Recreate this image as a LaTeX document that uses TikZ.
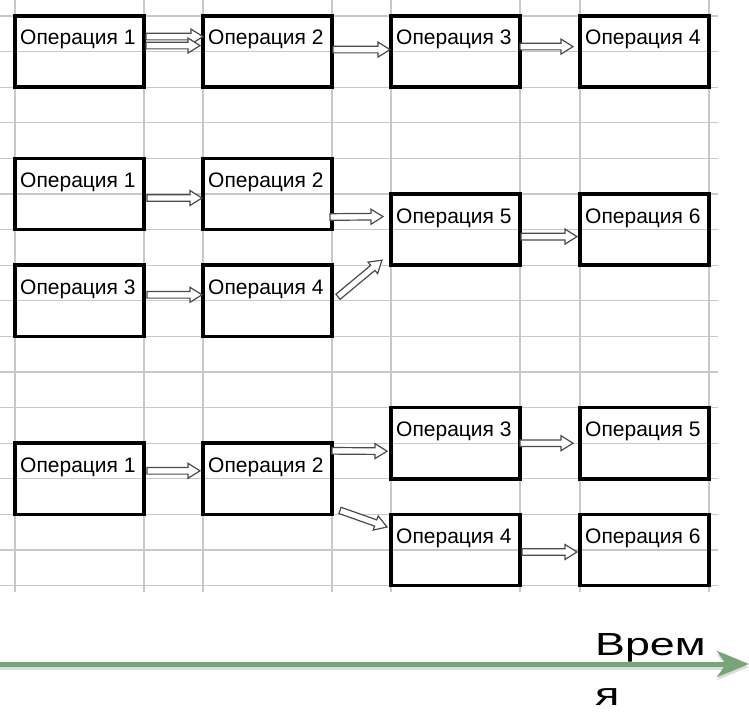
\documentclass[tikz,border=0pt]{standalone}
\usepackage{fontspec}
\setmainfont{Liberation Sans}
\newfontfamily\axisfont{Liberation Sans}[FakeStretch=1.4]
\usetikzlibrary{calc,arrows.meta}
\definecolor{gridgray}{RGB}{200,200,200}
\definecolor{arrowgray}{RGB}{75,75,75}
\definecolor{axisgreen}{RGB}{118,166,120}
\begin{document}
\begin{tikzpicture}[x=1pt,y=-1pt,
  opbox/.style={draw,line width=3.5pt,minimum width=129pt,minimum height=71.2pt,
    inner sep=0pt,outer sep=0pt,anchor=north west,
    label={[anchor=base west,inner sep=0pt,font=\fontsize{21}{25}\selectfont,
      xshift=5pt,yshift=-29pt]north west:#1}},
  blockarrow/.style={draw=arrowgray,line width=1.2pt,fill=white,line join=miter,
    to path={($(\tikztotarget)!12pt!(\tikztostart)$) coordinate (hb)
      ($(\tikztostart)!3.3pt!90:(\tikztotarget)$) -- ($(hb)!3.3pt!-90:(\tikztostart)$)
      -- ($(hb)!7.5pt!-90:(\tikztostart)$) -- (\tikztotarget)
      -- ($(hb)!7.5pt!90:(\tikztostart)$) -- ($(hb)!3.3pt!90:(\tikztostart)$)
      -- ($(\tikztostart)!3.3pt!-90:(\tikztotarget)$) -- cycle}},
  timeline/.style={line width=5pt,-{Stealth[length=32pt,width=26pt,inset=9pt]}}]
\useasboundingbox (0,0) rectangle (749,714);
% grid of the sheet
\foreach \k in {0,...,16}
  \draw[gridgray,line width=1.2pt] (0,16+35.6*\k) -- (718,16+35.6*\k);
\foreach \x in {15,144,203,332,391,520,580,709}
  \draw[gridgray,line width=1.2pt] (\x,0) -- (\x,592);
% first chain
\node[opbox=Операция 1] (a1) at (15,16) {};
\node[opbox=Операция 2] (a2) at (203,16) {};
\node[opbox=Операция 3] (a3) at (391,16) {};
\node[opbox=Операция 4] (a4) at (580,16) {};
\draw[blockarrow] ($(a1.east)+(2,-15)$) to ($(a2.west)+(0,-15)$);
\draw[blockarrow] ($(a1.east)+(2,-6)$) to ($(a2.west)+(-3,-6)$);
\draw[blockarrow] ($(a2.east)+(1,-2)$) to ($(a3.west)+(-1,-2)$);
\draw[blockarrow] ($(a3.east)+(0,-5)$) to ($(a4.west)+(-7,-5)$);
% two chains joined
\node[opbox=Операция 1] (b1) at (15,158.4) {};
\node[opbox=Операция 2] (b2) at (203,158.4) {};
\node[opbox=Операция 3] (b3) at (15,265.2) {};
\node[opbox=Операция 4] (b4) at (203,265.2) {};
\node[opbox=Операция 5] (b5) at (391,194) {};
\node[opbox=Операция 6] (b6) at (580,194) {};
\draw[blockarrow] ($(b1.east)+(3,4)$) to ($(b2.west)+(-1,4)$);
\draw[blockarrow] ($(b2.east)+(-2,23)$) to ($(b5.west)+(-8,-13)$);
\draw[blockarrow] ($(b3.east)+(3,-6)$) to ($(b4.west)+(-1,-6)$);
\draw[blockarrow] ($(b4.east)+(6,-4)$) to ($(b5.south west)+(-9,-5)$);
\draw[blockarrow] ($(b5.east)+(1,7)$) to ($(b6.west)+(-3,7)$);
% chain split in two
\node[opbox=Операция 1] (c1) at (15,443.2) {};
\node[opbox=Операция 2] (c2) at (203,443.2) {};
\node[opbox=Операция 3] (c3) at (391,407.6) {};
\node[opbox=Операция 5] (c5) at (580,407.6) {};
\node[opbox=Операция 4] (c4) at (391,514.4) {};
\node[opbox=Операция 6] (c6) at (580,514.4) {};
\draw[blockarrow] ($(c1.east)+(3,-8)$) to ($(c2.west)+(-3,-8)$);
\draw[blockarrow] ($(c2.east)+(0,-28)$) to ($(c3.west)+(-4,8)$);
\draw[blockarrow] ($(c2.south east)+(8,-4)$) to ($(c4.west)+(-4,-23)$);
\draw[blockarrow] ($(c3.east)+(0,0)$) to ($(c5.west)+(-7,0)$);
\draw[blockarrow] ($(c4.east)+(2,2)$) to ($(c6.west)+(-3,2)$);
% time axis
\coordinate (t0) at (0,664);
\coordinate (t1) at (749,664);
\draw[timeline,gray!45,opacity=.6] ([yshift=-3pt]t0) -- ([yshift=-3pt]t1);
\draw[timeline,axisgreen] (t0) -- (t1);
\node[anchor=base west,inner sep=0pt,align=left,
  font=\axisfont\fontsize{32}{50}\selectfont] (tlabel) at (595,705) {Врем\\я};
\end{tikzpicture}
\end{document}
